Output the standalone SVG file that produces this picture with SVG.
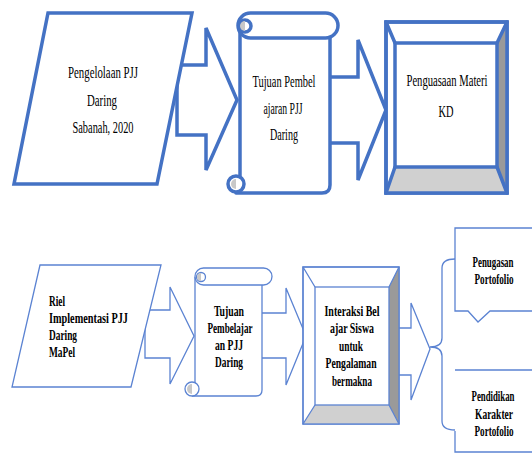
<svg xmlns="http://www.w3.org/2000/svg" width="532" height="456" viewBox="0 0 532 456">
<style>
.k{fill:#fff;stroke:#4472C4;stroke-width:3.5;stroke-linejoin:miter}
.kl{fill:none;stroke:#4472C4;stroke-width:3.5;stroke-linecap:round}
.n{fill:#fff;stroke:#5B83D2;stroke-width:1.3;stroke-linejoin:miter}
.nl{fill:none;stroke:#5B83D2;stroke-width:1.3}
.g1{fill:#9A9A9A}
.g2{fill:#D0D0D0}
.gc{fill:#C8C8C8}
.t1{font-family:"Liberation Serif",serif;font-size:17px;fill:#000}
.t2{font-family:"Liberation Serif",serif;font-size:14px;font-weight:bold;fill:#000}
</style>
<rect width="532" height="456" fill="#fff"/>
<g id="connectors">
<polygon class="k" points="177,65 206,65 206,28 237,100 206,170 206,135 177,135"/>
<polygon class="k" points="326,77 358,77 358,40 386,110 358,180 358,143 326,143"/>
<polygon class="n" points="145,310 170,310 170,287 194,336 170,384 170,358 145,358"/>
<polygon class="n" points="258,313 286,313 286,288 306,336 286,385 286,358 258,358"/>
<polygon class="n" points="395,328 411,328 411,303 430,349 411,400 411,375 395,375"/>
<path class="nl" d="M455,259 Q442,259 442,268 L442,338 Q442,347 430,347 Q442,347 442,356 L442,421 Q442,430 455,430"/>
</g>
<g id="n1">
<polygon class="k" points="48,13 192,13 157,184 14,184"/>
<text class="t1" text-anchor="middle" x="103" y="78" textLength="70" lengthAdjust="spacingAndGlyphs">Pengelolaan PJJ</text>
<text class="t1" text-anchor="middle" x="102" y="106" textLength="30" lengthAdjust="spacingAndGlyphs">Daring</text>
<text class="t1" text-anchor="middle" x="103" y="133" textLength="61" lengthAdjust="spacingAndGlyphs">Sabanah, 2020</text>
</g>
<g id="n2">
<rect x="240" y="28" width="90" height="165" fill="#fff"/>
<path class="kl" d="M240,30 L240,180 M236,193 L322,193 Q330,193 330,185 L330,38"/>
<rect class="k" x="238" y="13" width="100" height="25" rx="12.5"/>
<circle class="k" cx="245" cy="26" r="6"/>
<path class="gc" d="M245,21 A5,5 0 0,0 245,31 Z"/>
<circle class="k" cx="236" cy="184" r="8"/>
<path class="gc" d="M236,179 A5,5 0 0,0 236,189 Z"/>
<text class="t1" text-anchor="middle" x="284" y="87" textLength="63" lengthAdjust="spacingAndGlyphs">Tujuan Pembel</text>
<text class="t1" text-anchor="middle" x="283" y="114" textLength="39" lengthAdjust="spacingAndGlyphs">ajaran PJJ</text>
<text class="t1" text-anchor="middle" x="284" y="140" textLength="28" lengthAdjust="spacingAndGlyphs">Daring</text>
</g>
<g id="n3">
<rect class="k" x="386" y="22" width="121" height="171"/>
<polygon class="g1" points="507,22 507,193 497,167 497,43"/>
<polygon class="g2" points="386,193 507,193 497,167 395,167"/>
<path class="kl" d="M386,22 L395,43 M507,22 L497,43 M386,193 L395,167 M507,193 L497,167"/>
<rect class="k" x="386" y="22" width="121" height="171" style="fill:none"/>
<rect class="k" x="395" y="43" width="102" height="124"/>
<text class="t1" text-anchor="middle" transform="translate(447,86) scale(0.625,1)">Penguasaan Materi</text>
<text class="t1" text-anchor="middle" x="446" y="117" textLength="15" lengthAdjust="spacingAndGlyphs">KD</text>
</g>
<g id="n4">
<polygon class="n" points="40,265 161,265 131,387 12,387"/>
<text class="t2" x="49" y="306" textLength="16" lengthAdjust="spacingAndGlyphs">Riel</text>
<text class="t2" x="49" y="323" textLength="79" lengthAdjust="spacingAndGlyphs">Implementasi PJJ</text>
<text class="t2" x="49" y="340" textLength="28" lengthAdjust="spacingAndGlyphs">Daring</text>
<text class="t2" x="49" y="357" textLength="26" lengthAdjust="spacingAndGlyphs">MaPel</text>
</g>
<g id="n5">
<rect x="195" y="276" width="67" height="120" fill="#fff"/>
<path class="nl" d="M195,277 L195,388 M192,396 L256,396 Q262,396 262,390 L262,285"/>
<rect class="n" x="195" y="268" width="77" height="17" rx="8.5"/>
<circle class="n" cx="201" cy="277" r="4.5"/>
<path class="gc" d="M201,273 A4,4 0 0,0 201,281 Z"/>
<circle class="n" cx="192" cy="389" r="7"/>
<path class="gc" d="M192,384 A5,5 0 0,0 192,394 Z"/>
<text class="t2" text-anchor="middle" x="229" y="316" textLength="30" lengthAdjust="spacingAndGlyphs">Tujuan</text>
<text class="t2" text-anchor="middle" x="230" y="333" textLength="45" lengthAdjust="spacingAndGlyphs">Pembelajar</text>
<text class="t2" text-anchor="middle" x="229" y="350" textLength="28" lengthAdjust="spacingAndGlyphs">an PJJ</text>
<text class="t2" text-anchor="middle" x="229" y="367" textLength="28" lengthAdjust="spacingAndGlyphs">Daring</text>
</g>
<g id="n6">
<rect class="n" x="303" y="267" width="96" height="157"/>
<polygon class="g1" points="399,267 399,424 389,405 389,287"/>
<polygon class="g2" points="303,424 399,424 389,405 315,405"/>
<path class="nl" d="M303,267 L315,287 M399,267 L389,287 M303,424 L315,405 M399,424 L389,405"/>
<rect class="nl" x="303" y="267" width="96" height="157"/>
<rect class="n" x="315" y="287" width="74" height="118"/>
<text class="t2" text-anchor="middle" x="352" y="316" textLength="55" lengthAdjust="spacingAndGlyphs">Interaksi Bel</text>
<text class="t2" text-anchor="middle" x="352" y="333" textLength="44" lengthAdjust="spacingAndGlyphs">ajar Siswa</text>
<text class="t2" text-anchor="middle" x="351" y="351" textLength="24" lengthAdjust="spacingAndGlyphs">untuk</text>
<text class="t2" text-anchor="middle" x="351" y="368" textLength="51" lengthAdjust="spacingAndGlyphs">Pengalaman</text>
<text class="t2" text-anchor="middle" x="352" y="386" textLength="40" lengthAdjust="spacingAndGlyphs">bermakna</text>
</g>
<g id="n7">
<path class="n" d="M455,228 L540,228 L540,311 L490,311 L478,322 L468,311 L455,311 Z"/>
<text class="t2" text-anchor="middle" transform="translate(493,267) scale(0.635,1)">Penugasan</text>
<text class="t2" text-anchor="middle" transform="translate(494,284) scale(0.651,1)">Portofolio</text>
</g>
<g id="n8">
<path class="nl" d="M455,370 L540,370 M455,431 L455,452 L540,452"/>
<text class="t2" text-anchor="middle" transform="translate(493,401) scale(0.628,1)">Pendidikan</text>
<text class="t2" text-anchor="middle" transform="translate(494,419) scale(0.679,1)">Karakter</text>
<text class="t2" text-anchor="middle" transform="translate(494,436) scale(0.651,1)">Portofolio</text>
</g>
</svg>
